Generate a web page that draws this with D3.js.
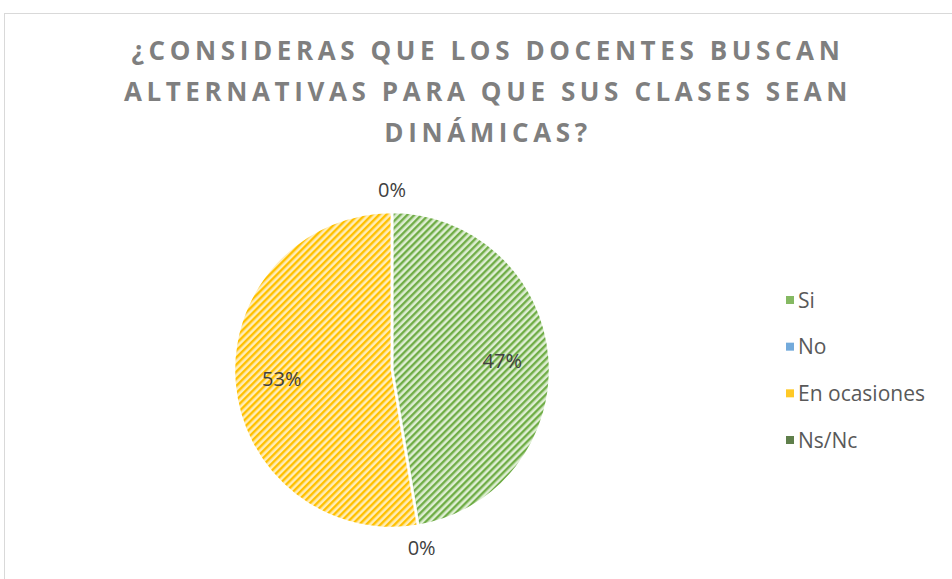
<!DOCTYPE html>
<html>
<head>
<meta charset="utf-8">
<script src="https://cdn.jsdelivr.net/npm/d3@7"></script>
<style>
  body { margin: 0; background: #fff; }
  svg { display: block; }
  .titleText { font-family: "Open Sans", sans-serif; font-weight: 700; fill: #7f7f7f; }
  .labelText { font-family: "Open Sans", sans-serif; fill: #404040; }
  .legendText { font-family: "Open Sans", sans-serif; fill: #595959; }
</style>
</head>
<body>
<div id="chart"></div>
<script>
// data
var categories = ["Si", "No", "En ocasiones", "Ns/Nc"];
var values = [9, 0, 10, 0];
var titleLines = ["¿CONSIDERAS QUE LOS DOCENTES BUSCAN", "ALTERNATIVAS PARA QUE SUS CLASES SEAN", "DINÁMICAS?"];
var mainColors = ["#70ad47", "#5b9bd5", "#ffc000", "#43682b"];
var lightColors = ["#deeed3", "#d6e6f5", "#ffedb8", "#c3d4b8"];

var width = 952, height = 579;

var svg = d3.select("#chart").append("svg")
    .attr("width", width)
    .attr("height", height);

// hatch patterns (wide upward diagonal)
var defs = svg.append("defs");
categories.forEach(function(c, i){
    var p = defs.append("pattern")
        .attr("id", "hatch" + i)
        .attr("patternUnits", "userSpaceOnUse")
        .attr("width", 5)
        .attr("height", 5)
        .attr("patternTransform", "rotate(45)");
    p.append("rect").attr("width", 5).attr("height", 5).attr("fill", lightColors[i]);
    p.append("rect").attr("width", 2.4).attr("height", 5).attr("fill", mainColors[i]);
});

// chart area border (runs off the right and bottom edge)
svg.append("rect")
    .attr("x", 4.5)
    .attr("y", 13.5)
    .attr("width", 1200)
    .attr("height", 1200)
    .attr("fill", "none")
    .attr("stroke", "#d9d9d9")
    .attr("stroke-width", 1);

// title
svg.selectAll(".titleText")
    .data(titleLines)
    .enter().append("text")
    .attr("class", "titleText")
    .attr("x", 488)
    .attr("y", function(d, i){ return 60 + i * 41; })
    .attr("text-anchor", "middle")
    .style("font-size", "26px")
    .style("letter-spacing", "4.6px")
    .text(function(d){ return d; });

// pie
var cx = 392, cy = 370, radius = 158;
var total = d3.sum(values);
var pie = d3.pie().sort(null).value(function(d){ return d; });
var arcs = pie(values);
var arc = d3.arc().innerRadius(0).outerRadius(radius);
var labelArc = d3.arc().innerRadius(radius * 0.7).outerRadius(radius * 0.7);
var outerArc = d3.arc().innerRadius(radius + 22).outerRadius(radius + 22);

var g = svg.append("g").attr("transform", "translate(" + cx + "," + cy + ")");

g.selectAll(".slice")
    .data(arcs)
    .enter().append("path")
    .attr("class", "slice")
    .attr("d", arc)
    .attr("fill", function(d, i){ return "url(#hatch" + i + ")"; })
    .attr("stroke", "#fff")
    .attr("stroke-width", 2.5);

g.selectAll(".labelText")
    .data(arcs)
    .enter().append("text")
    .attr("class", "labelText")
    .attr("transform", function(d){
        var pos = d.value > 0 ? labelArc.centroid(d) : outerArc.centroid(d);
        return "translate(" + pos + ")";
    })
    .attr("dy", "0.36em")
    .attr("text-anchor", "middle")
    .style("font-size", "20px")
    .text(function(d){ return Math.round(100 * d.value / total) + "%"; });

// legend
var legendY = d3.scalePoint().domain(categories).range([300, 440]);
var legend = svg.selectAll(".legendItem")
    .data(categories)
    .enter().append("g")
    .attr("class", "legendItem")
    .attr("transform", function(d){ return "translate(786," + legendY(d) + ")"; });

legend.append("rect")
    .attr("x", 0)
    .attr("y", -4)
    .attr("width", 8)
    .attr("height", 8)
    .attr("fill", function(d, i){ return mainColors[i]; })
    .attr("opacity", 0.85);

legend.append("text")
    .attr("class", "legendText")
    .attr("x", 12)
    .attr("dy", "0.36em")
    .style("font-size", "21px")
    .text(function(d){ return d; });
</script>
</body>
</html>
